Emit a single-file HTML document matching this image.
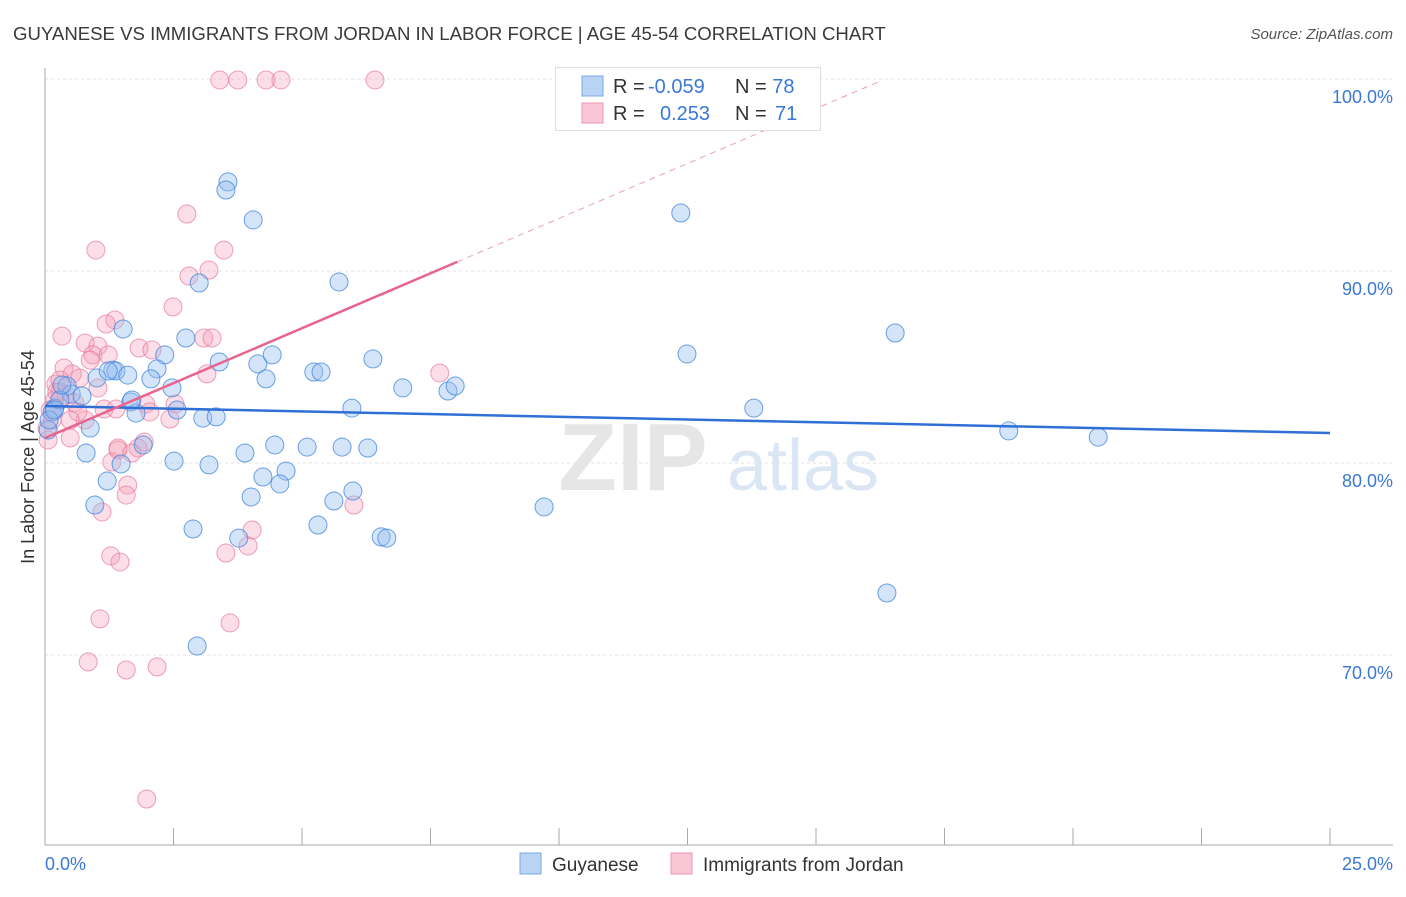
<!DOCTYPE html>
<html><head><meta charset="utf-8"><style>
body{margin:0;background:#fff;font-family:"Liberation Sans",sans-serif}
svg text{font-family:"Liberation Sans",sans-serif}
</style></head><body>
<svg id="chart" width="1406" height="892" viewBox="0 0 1406 892">
<text x="13" y="40" font-size="18.6" fill="#3a3a3a">GUYANESE VS IMMIGRANTS FROM JORDAN IN LABOR FORCE | AGE 45-54 CORRELATION CHART</text>
<text x="1393" y="39" font-size="15" fill="#555" font-style="italic" text-anchor="end">Source: ZipAtlas.com</text>
<g><text x="633" y="490" font-size="96" fill="#e6e6e6" text-anchor="middle" font-family="Liberation Serif,serif" font-weight="bold">ZIP</text><text x="803" y="490" font-size="72" fill="#dbe6f5" text-anchor="middle">atlas</text></g>
<g id="grid"></g><g id="axes"></g><g id="marks"></g>
<text transform="translate(34,457) rotate(-90)" font-size="18" fill="#333" text-anchor="middle">In Labor Force | Age 45-54</text>
<g>
<rect x="555.5" y="67.5" width="265" height="63" fill="#fff" stroke="#ddd"/>
<rect x="582" y="76" width="21" height="20" fill="#b9d3f5" stroke="#7aa8e8"/>
<rect x="582" y="103" width="21" height="20" fill="#f9c6d5" stroke="#ec97b2"/>
<text x="613" y="93" font-size="20" fill="#333">R = <tspan fill="#3a78d6" x="648">-0.059</tspan></text>
<text x="735" y="93" font-size="20" fill="#333">N = <tspan fill="#3a78d6">78</tspan></text>
<text x="613" y="120" font-size="20" fill="#333">R = <tspan fill="#3a78d6" x="660">0.253</tspan></text>
<text x="735" y="120" font-size="20" fill="#333">N = <tspan fill="#3a78d6" x="775">71</tspan></text>
</g>
<g>
<rect x="520" y="853" width="21" height="21" fill="#b9d3f5" stroke="#7aa8e8"/>
<text x="552" y="871" font-size="19" fill="#333">Guyanese</text>
<rect x="671" y="853" width="21" height="21" fill="#f9c6d5" stroke="#ec97b2"/>
<text x="703" y="871" font-size="19" fill="#333">Immigrants from Jordan</text>
</g>
</svg>
<script>
const xTicks=[0,2.5,5,7.5,10,12.5,15,17.5,20,22.5,25];
const yTicks=[100,90,80,70];
const yTickLabels=["100.0%","90.0%","80.0%","70.0%"];
const xEndLabels=["0.0%","25.0%"];
const blueX=[3.56,3.52,4.05,12.37,3.00,5.72,1.52,2.74,16.54,12.49,2.33,4.42,3.39,6.38,4.14,1.32,1.38,1.61,2.18,1.01,2.06,4.30,5.23,5.37,6.96,7.84,7.98,2.47,0.43,0.51,0.72,1.67,1.77,2.57,3.07,3.33,5.97,13.79,18.75,20.49,0.19,0.14,0.88,1.91,4.47,5.10,5.78,6.28,0.80,3.89,2.51,1.48,3.19,4.69,4.24,4.57,1.21,5.99,4.01,5.62,0.97,9.71,5.31,2.88,3.77,6.54,6.65,16.38,2.96,0.06,0.29,0.33,0.08,0.18,1.69,1.23];
const blueY=[94.64,94.22,92.66,93.02,89.38,89.43,86.98,86.51,86.77,85.68,85.63,85.63,85.26,85.42,85.16,84.84,84.79,84.58,84.90,84.43,84.38,84.38,84.74,84.74,83.91,83.75,84.01,83.91,84.01,83.59,83.49,83.18,82.60,82.76,82.34,82.40,82.86,82.86,81.67,81.35,82.86,82.66,81.82,80.94,80.94,80.83,80.83,80.78,80.52,80.52,80.10,79.95,79.90,79.58,79.27,78.91,79.06,78.54,78.23,78.02,77.81,77.71,76.77,76.56,76.09,76.15,76.09,73.23,70.47,81.72,83.28,84.06,82.24,82.76,83.28,84.79];
const pinkX=[3.40,3.75,4.30,4.59,6.42,2.76,0.99,3.48,2.80,3.19,2.49,1.36,1.19,0.33,0.78,1.03,1.83,2.08,3.09,3.25,0.93,1.23,0.37,0.53,0.68,3.15,7.68,0.21,0.29,0.19,0.58,1.15,1.38,1.96,2.04,2.53,2.43,0.10,0.04,0.78,0.49,1.42,1.81,1.93,1.30,1.61,1.58,1.11,4.03,6.01,3.52,3.95,1.28,1.46,1.07,3.60,0.84,1.58,2.18,1.98,0.14,0.41,0.88,1.42,0.29,0.64,0.06,1.03,0.49,0.23,1.69];
const pinkY=[99.95,99.95,99.95,99.95,99.95,92.97,91.09,91.09,89.74,90.05,88.13,87.45,87.24,86.61,86.25,86.09,85.99,85.89,86.51,86.51,85.63,85.63,84.95,84.64,84.43,84.64,84.69,84.11,83.70,83.28,83.13,82.81,82.81,83.07,82.66,83.07,82.29,82.76,81.82,82.24,81.30,80.78,80.78,81.09,80.05,78.85,78.33,77.45,76.51,77.81,75.31,75.68,75.16,74.84,71.88,71.67,69.64,69.22,69.38,62.50,82.24,83.54,85.36,80.68,84.32,82.66,81.20,83.91,82.24,83.70,80.52];
const blueTrend=[82.97,81.56];
const pinkTrend=[81.30,1.144];
const NS='http://www.w3.org/2000/svg';
const X0=45,X1=1330,Y100=79,PX=19.2;
const sx=v=>X0+(X1-X0)*v/25;
const sy=v=>Y100+(100-v)*PX;
function mk(tag,attrs,parent){const e=document.createElementNS(NS,tag);for(const k in attrs)e.setAttribute(k,attrs[k]);parent.appendChild(e);return e;}
const grid=document.getElementById('grid'),axes=document.getElementById('axes'),marks=document.getElementById('marks');
yTicks.forEach((t,i)=>{
 const l=mk('line',{x1:45,x2:1393,y1:sy(t),y2:sy(t),stroke:'#e2e2e2','stroke-dasharray':'3,3'},grid);
 
 
 const tx=mk('text',{x:1393,y:sy(t)+24,'font-size':18,fill:'#3a78d6','text-anchor':'end'},axes);
 tx.textContent=yTickLabels[i];
 
 
});
const ya=mk('line',{x1:45,x2:45,y1:68,y2:845,stroke:'#aaa'},axes);


const xa=mk('line',{x1:45,x2:1393,y1:845,y2:845,stroke:'#aaa'},axes);


xTicks.forEach(t=>{
 const l=mk('line',{x1:sx(t),x2:sx(t),y1:828,y2:845,stroke:'#aaa'},axes);
 
 
});
[[0,'start',45],[25,'end',1393]].forEach((d,i)=>{
 const tx=mk('text',{x:d[2],y:870,'font-size':18,fill:'#3a78d6','text-anchor':d[1]},axes);
 tx.textContent=xEndLabels[i];
 
 
});
pinkX.forEach((v,i)=>{
 const c=mk('circle',{cx:sx(v),cy:sy(pinkY[i]),r:9,fill:'rgba(244,160,185,0.35)',stroke:'rgba(232,120,155,0.7)','stroke-width':1},marks);
 
 
});
blueX.forEach((v,i)=>{
 const c=mk('circle',{cx:sx(v),cy:sy(blueY[i]),r:9,fill:'rgba(150,190,240,0.4)',stroke:'rgba(60,130,220,0.75)','stroke-width':1},marks);
 
 
});
const bt=mk('line',{x1:sx(0),y1:sy(blueTrend[0]),x2:sx(25),y2:sy(blueTrend[1]),stroke:'#2f6fd6','stroke-width':2.5},marks);


const pf=x=>pinkTrend[0]+pinkTrend[1]*x;
const pt=mk('line',{x1:sx(0),y1:sy(pf(0)),x2:sx(8.02),y2:sy(pf(8.02)),stroke:'#e8648f','stroke-width':2.5},marks);


const pd=mk('line',{x1:sx(8.02),y1:sy(pf(8.02)),x2:sx(16.25),y2:sy(pf(16.25)),stroke:'#e8a0b8','stroke-width':1,'stroke-dasharray':'6,5'},marks);


</script>
</body></html>
